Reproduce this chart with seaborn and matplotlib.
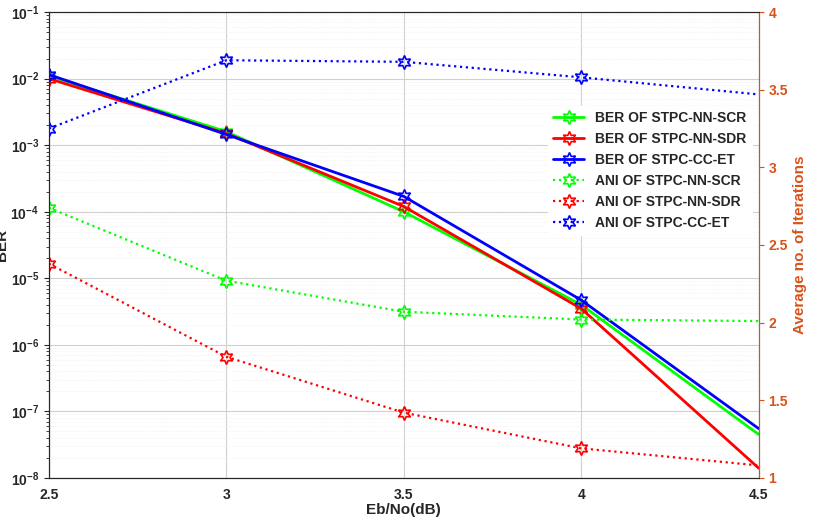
import matplotlib
matplotlib.use("Agg")
import matplotlib.pyplot as plt
import seaborn as sns
import pandas as pd
import numpy as np

ebno = [2.5, 3.0, 3.5, 4.0, 4.5]
ber_scr = [1.1e-2, 1.6e-3, 1.0e-4, 4.0e-6, 4.5e-8]
ber_sdr = [1.0e-2, 1.5e-3, 1.2e-4, 3.5e-6, 1.4e-8]
ber_et = [1.15e-2, 1.45e-3, 1.7e-4, 4.7e-6, 5.5e-8]
ani_scr = [2.74, 2.27, 2.07, 2.02, 2.01]
ani_sdr = [2.38, 1.78, 1.42, 1.19, 1.08]
ani_et = [3.25, 3.69, 3.68, 3.58, 3.47]

sns.set_style("white")
plt.rcParams['font.family'] = ['Liberation Sans', 'DejaVu Sans']
plt.rcParams['font.weight'] = 'bold'

fig = plt.figure(figsize=(8.14, 5.28), dpi=100)
ax = fig.add_axes([0.06, 0.095, 0.872, 0.882])
ax2 = ax.twinx()
star = (6, 1, 0)
colors = ['#00FF00', '#FF0000', '#0000FF']

for name, y, c in [("BER OF STPC-NN-SCR", ber_scr, colors[0]),
                   ("BER OF STPC-NN-SDR", ber_sdr, colors[1]),
                   ("BER OF STPC-CC-ET", ber_et, colors[2])]:
    sns.lineplot(x=ebno, y=y, ax=ax, color=c, lw=2, marker=star, markersize=10, markevery=[0, 1, 2, 3],
                 markerfacecolor='none', markeredgecolor=c, markeredgewidth=1.2, label=name, legend=False)
for name, y, c in [("ANI OF STPC-NN-SCR", ani_scr, colors[0]),
                   ("ANI OF STPC-NN-SDR", ani_sdr, colors[1]),
                   ("ANI OF STPC-CC-ET", ani_et, colors[2])]:
    sns.lineplot(x=ebno, y=y, ax=ax2, color=c, lw=1.6, ls=':', marker=star, markersize=10, markevery=[0, 1, 2, 3],
                 markerfacecolor='none', markeredgecolor=c, markeredgewidth=1.2, label=name, legend=False)

ax.set_yscale('log')
ax.set_ylim(1e-8, 1e-1)
ax.set_xlim(2.5, 4.5)
ax.set_xticks([2.5, 3, 3.5, 4, 4.5])
ax.set_xticklabels(['2.5', '3', '3.5', '4', '4.5'])
ax.grid(True, which='major', color='#d0d0d0', lw=0.8)
ax.grid(True, which='minor', axis='y', color='#ececec', lw=0.5, ls=':')
ax.set_xlabel('Eb/No(dB)', fontweight='bold', fontsize=11, labelpad=1)
ax.set_ylabel('BER', fontweight='bold', fontsize=11, labelpad=1)
ax2.set_ylim(1, 4)
ax2.set_yticks([1, 1.5, 2, 2.5, 3, 3.5, 4])
ax2.set_yticklabels(['1', '1.5', '2', '2.5', '3', '3.5', '4'])
oc = '#D95319'
ax2.tick_params(axis='y', colors=oc, labelsize=10)
ax2.set_ylabel('Average no. of Iterations', color=oc, fontweight='bold', fontsize=11)
ax.tick_params(labelsize=10)
for a in (ax, ax2):
    for s in a.spines.values():
        s.set_color('#262626')
ax2.spines['right'].set_color(oc)

h1, l1 = ax.get_legend_handles_labels()
h2, l2 = ax2.get_legend_handles_labels()
ax2.legend(h1 + h2, l1 + l2, loc='center right', bbox_to_anchor=(1.0, 0.66),
           frameon=True, facecolor='white', edgecolor='white', framealpha=1,
           prop={'weight': 'bold', 'size': 10}, handlelength=2.2)
fig.savefig('out.png', dpi=100)
